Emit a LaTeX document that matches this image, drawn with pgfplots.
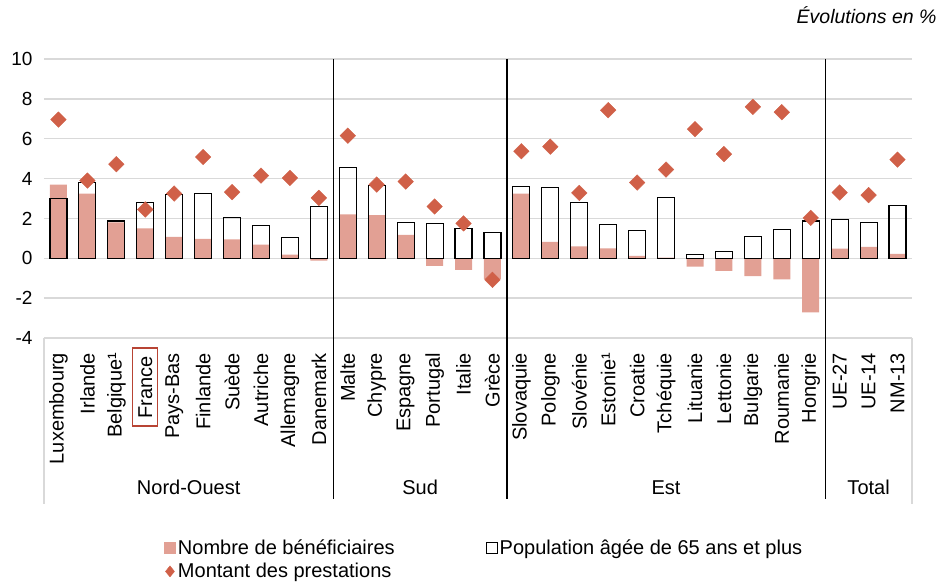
\documentclass[border=0pt]{standalone}
\usepackage{pgfplots}
\pgfplotsset{compat=1.18}
\usepackage{pgfplotstable}
\usepackage{fontspec}
\setmainfont{Liberation Sans}

\definecolor{benef}{RGB}{226,160,148}
\definecolor{prest}{RGB}{208,96,72}
\definecolor{grille}{RGB}{217,217,217}
\definecolor{cadre}{RGB}{184,68,52}

\newcommand{\fnt}{\fontsize{20bp}{24bp}\selectfont}
\newcommand{\fntick}{\fontsize{19bp}{23bp}\selectfont}

% x benef pop prest
\pgfplotstableread{
x  benef  pop   prest
0   3.70  3.00  6.96
1   3.25  3.80  3.90
2   1.80  1.87  4.72
3   1.50  2.80  2.45
4   1.07  3.20  3.25
5   0.97  3.23  5.08
6   0.95  2.05  3.32
7   0.68  1.65  4.15
8   0.18  1.05  4.03
9  -0.12  2.58  3.03
10  2.20  4.55  6.15
11  2.17  3.65  3.70
12  1.17  1.78  3.85
13 -0.38  1.73  2.60
14 -0.58  1.48  1.75
15 -1.05  1.28 -1.08
16  3.25  3.58  5.37
17  0.82  3.53  5.60
18  0.60  2.80  3.28
19  0.50  1.70  7.43
20  0.12  1.40  3.80
21  0.03  3.07  4.45
22 -0.42  0.20  6.48
23 -0.63  0.33  5.23
24 -0.90  1.08  7.60
25 -1.06  1.43  7.33
26 -2.72  1.87  2.03
27  0.48  1.95  3.30
28  0.57  1.78  3.17
29  0.22  2.65  4.95
}\donnees

\begin{document}
\begin{tikzpicture}
\useasboundingbox (0,0) rectangle (950bp,585bp);
\begin{axis}[
  at={(44bp,247bp)}, anchor=south west,
  scale only axis, width=868bp, height=279bp,
  xmin=-0.5, xmax=29.5, ymin=-4, ymax=10,
  ytick={-4,-2,...,10},
  xtick={0,...,29},
  xticklabels={Luxembourg,Irlande,Belgique¹,France\kern3.5bp,Pays-Bas,Finlande,Suède,Autriche,Allemagne,Danemark,
    Malte,Chypre,Espagne,Portugal,Italie,Grèce,
    Slovaquie,Pologne,Slovénie,Estonie¹,Croatie,Tchéquie,Lituanie,Lettonie,Bulgarie,Roumanie,Hongrie,
    UE-27,UE-14,NM-13},
  axis line style={draw=none},
  major tick length=0pt,
  ymajorgrids, grid style={grille, line width=1.5bp},
  xticklabel style={font=\fnt, rotate=90, anchor=east, xshift=-11.5bp},
  yticklabel style={font=\fntick, xshift=-8bp},
  /pgf/number format/assume math mode=true,
  clip=false,
  legend columns=2,
  legend cell align=left,
  legend style={at={(0.138,-0.717)}, anchor=north west, draw=none, fill=none,
    inner sep=0pt, font=\fnt, row sep=3bp,
    /tikz/every even column/.append style={column sep=89bp}},
]
\addplot[ybar, bar width=17bp, bar shift=0pt, fill=benef, draw=none,
  legend image code/.code={\fill[benef] (0bp,-6bp) rectangle (12bp,6bp);}]
  table[x=x, y=benef] {\donnees};
\addlegendentry{Nombre de bénéficiaires}
\addplot[ybar, bar width=17bp, bar shift=0pt, fill=none, draw=black, line width=1.1bp,
  legend image code/.code={\draw[black, line width=1bp] (0.5bp,-5.5bp) rectangle (11.5bp,5.5bp);}]
  table[x=x, y=pop] {\donnees};
\addlegendentry{Population âgée de 65 ans et plus}
\addplot[only marks, mark=square*, mark size=5.5bp, mark options={rotate=45, fill=prest, draw=prest},
  legend image code/.code={\fill[prest] (6bp,-5.5bp) -- (10.5bp,0bp) -- (6bp,5.5bp) -- (1.5bp,0bp) -- cycle;}]
  table[x=x, y=prest] {\donnees};
\addlegendentry{Montant des prestations}

% separateurs des groupes
\draw[black, line width=1.2bp] (axis cs:9.5,10) -- (axis cs:9.5,-12.1);
\draw[black, line width=1.2bp] (axis cs:15.5,10) -- (axis cs:15.5,-12.1);
\draw[black, line width=1.2bp] (axis cs:26.5,10) -- (axis cs:26.5,-12.1);
\draw[grille, line width=1.5bp] (axis cs:-0.5,-4) -- (axis cs:-0.5,-12.35);
\draw[grille, line width=1.5bp] (axis cs:29.5,-4) -- (axis cs:29.5,-12.35);
\node[font=\fnt, anchor=base] at (axis cs:4.5,-11.85) {Nord-Ouest};
\node[font=\fnt, anchor=base] at (axis cs:12.5,-11.85) {Sud};
\node[font=\fnt, anchor=base] at (axis cs:21,-11.85) {Est};
\node[font=\fnt, anchor=base] at (axis cs:28,-11.85) {Total};
% cadre autour de France
\draw[cadre, line width=1.3bp] (axis cs:2.565,-4.5) rectangle (axis cs:3.43,-8.42);
\end{axis}
\node[anchor=base east, inner sep=0pt, font=\fontsize{19.5bp}{23bp}\selectfont\itshape] at (936.7bp,561.7bp) {Évolutions en \%};
\end{tikzpicture}
\end{document}
